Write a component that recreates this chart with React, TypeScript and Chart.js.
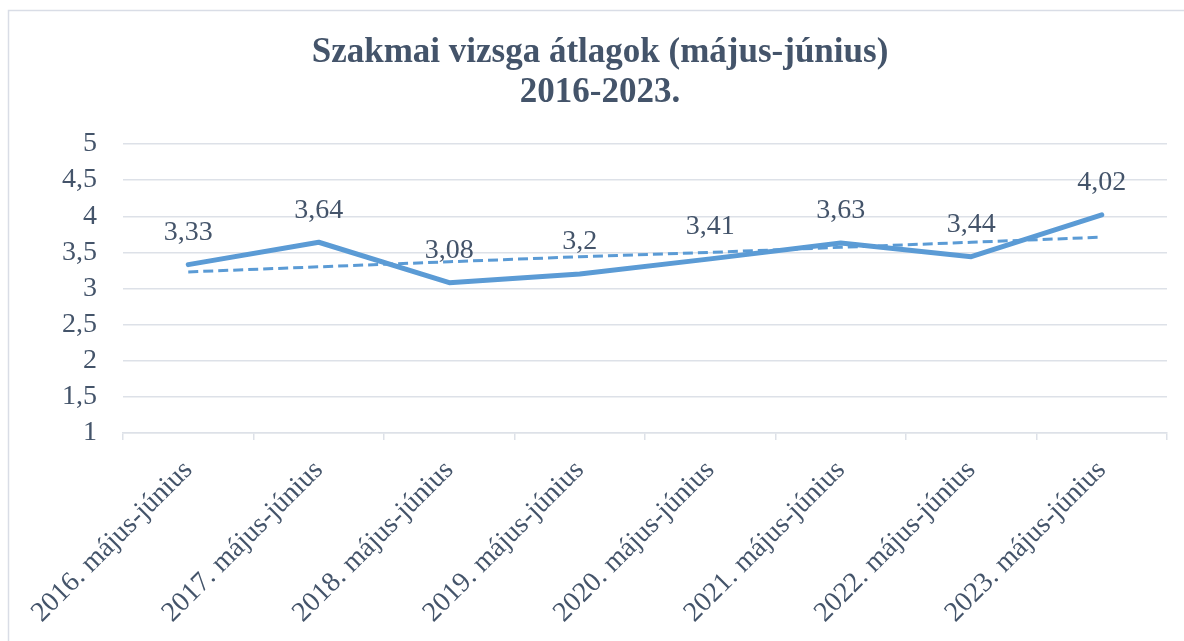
import React, { useEffect, useRef } from "react";
import { Chart, registerables } from "chart.js";

Chart.register(...registerables);

const categories = [
  "2016. május-június",
  "2017. május-június",
  "2018. május-június",
  "2019. május-június",
  "2020. május-június",
  "2021. május-június",
  "2022. május-június",
  "2023. május-június",
];
const averages = [3.33, 3.64, 3.08, 3.2, 3.41, 3.63, 3.44, 4.02];
// linear trendline
const trend = [3.23, 3.30, 3.37, 3.44, 3.50, 3.57, 3.64, 3.71];
const titleLines = ["Szakmai vizsga átlagok (május-június)", "2016-2023."];
const yMin = 1;
const yMax = 5;
const yStep = 0.5;

const FONT = '"Liberation Serif", "Times New Roman", serif';
const TEXT = "#44546A";
const BLUE = "#5B9BD5";
const GRID = "#dde1e8";

const fmt = (v: number) => String(v).replace(".", ",");

const framePlugin = {
  id: "frame",
  beforeDraw(chart: any) {
    const ctx = chart.ctx;
    ctx.save();
    ctx.fillStyle = "#ffffff";
    ctx.fillRect(0, 0, chart.width, chart.height);
    ctx.strokeStyle = "#d9dde6";
    ctx.lineWidth = 1.5;
    ctx.strokeRect(8.5, 10.5, 1200, 700);
    ctx.fillStyle = TEXT;
    ctx.font = `bold 35px ${FONT}`;
    ctx.textAlign = "center";
    ctx.textBaseline = "alphabetic";
    ctx.fillText(titleLines[0], 600, 62);
    ctx.fillText(titleLines[1], 600, 102);
    ctx.restore();
  },
};

const labelPlugin = {
  id: "pointLabels",
  afterDatasetsDraw(chart: any) {
    const ctx = chart.ctx;
    const meta = chart.getDatasetMeta(1);
    ctx.save();
    ctx.fillStyle = TEXT;
    ctx.font = `28px ${FONT}`;
    ctx.textAlign = "center";
    ctx.textBaseline = "middle";
    meta.data.forEach((pt: any, i: number) => {
      ctx.fillText(fmt(averages[i]), pt.x, pt.y - 32);
    });
    ctx.restore();
  },
};

export default function App() {
  const ref = useRef<HTMLCanvasElement | null>(null);
  useEffect(() => {
    if (!ref.current) return;
    const chart = new Chart(ref.current, {
      type: "line",
      data: {
        labels: categories,
        datasets: [
          {
            label: "Trend",
            data: trend,
            borderColor: BLUE,
            borderWidth: 3,
            borderDash: [10, 5],
            pointRadius: 0,
            fill: false,
            order: 0,
          },
          {
            label: "Átlag",
            data: averages,
            borderColor: BLUE,
            borderWidth: 5,
            borderCapStyle: "round",
            borderJoinStyle: "round",
            pointRadius: 0,
            fill: false,
            order: 1,
          },
        ],
      },
      options: {
        responsive: false,
        animation: false,
        layout: { padding: { left: 0, right: 17, top: 144, bottom: 0 } },
        plugins: {
          legend: { display: false },
          title: { display: false },
          tooltip: { enabled: false },
        },
        scales: {
          x: {
            type: "category",
            offset: true,
            grid: {
              offset: true,
              drawOnChartArea: false,
              drawTicks: true,
              tickLength: 7,
              color: GRID,
              lineWidth: 1.5,
            },
            border: { display: true, color: GRID, width: 1.5 },
            ticks: {
              color: TEXT,
              font: { family: FONT, size: 28 },
              minRotation: 45,
              maxRotation: 45,
              padding: 14,
              autoSkip: false,
            },
            afterFit(scale: any) {
              scale.height = 208;
            },
          },
          y: {
            min: yMin,
            max: yMax,
            grid: { drawTicks: false, color: GRID, lineWidth: 1.5 },
            border: { display: false },
            ticks: {
              stepSize: yStep,
              autoSkip: false,
              color: TEXT,
              font: { family: FONT, size: 28 },
              padding: 26,
              callback: (v: any) => fmt(Number(v)),
            },
            afterFit(scale: any) {
              scale.width = 123;
            },
          },
        },
      },
      plugins: [framePlugin, labelPlugin],
    } as any);
    return () => chart.destroy();
  }, []);
  return (
    <div style={{ position: "absolute", left: 0, top: 0, width: 1184, height: 641 }}>
      <canvas ref={ref} width={1184} height={641} style={{ display: "block" }} />
    </div>
  );
}
